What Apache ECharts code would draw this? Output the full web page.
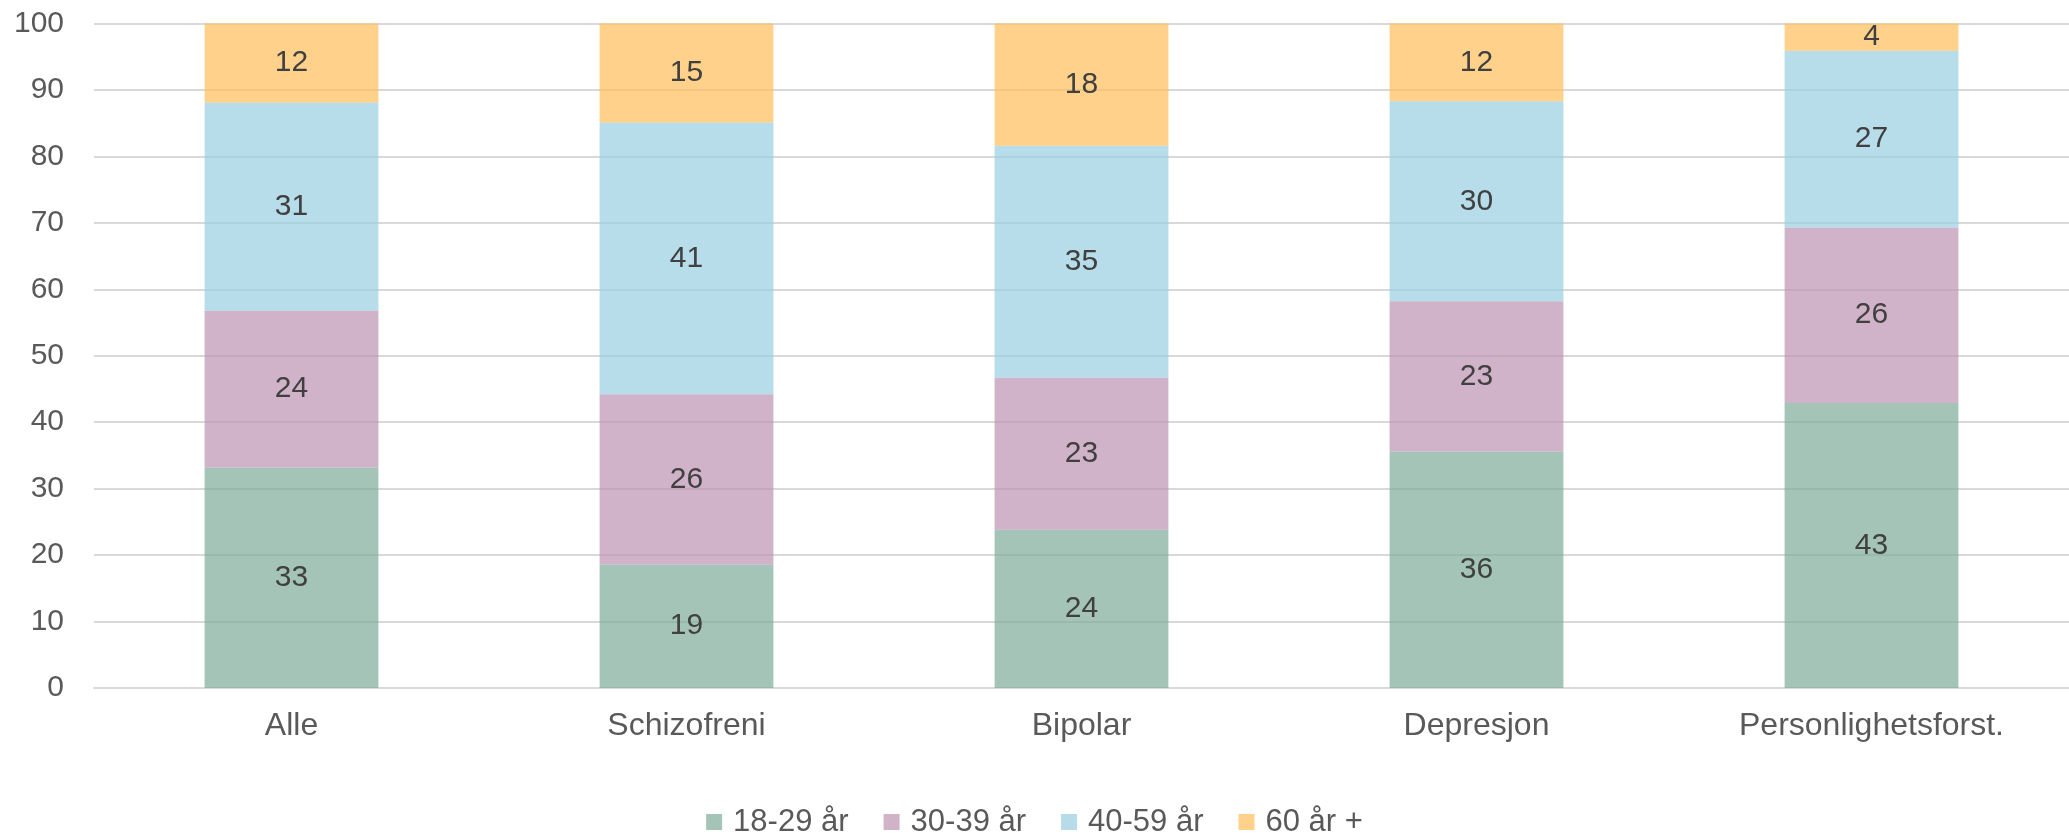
<!DOCTYPE html>
<html>
<head>
<meta charset="utf-8">
<script src="https://cdn.jsdelivr.net/npm/echarts@6/dist/echarts.min.js"></script>
<style>
html,body{margin:0;padding:0;background:#fff;}
#chart{width:2069px;height:836px;}
</style>
</head>
<body>
<div id="chart"></div>
<script>
var categories = ['Alle', 'Schizofreni', 'Bipolar', 'Depresjon', 'Personlighetsforst.'];
var seriesNames = ['18-29 år', '30-39 år', '40-59 år', '60 år +'];
var age18_29 = [33.2, 18.6, 23.8, 35.6, 42.9];
var age30_39 = [23.6, 25.6, 22.9, 22.6, 26.4];
var age40_59 = [31.3, 40.9, 34.9, 30.1, 26.6];
var age60plus = [11.9, 14.9, 18.4, 11.7, 4.1];
var yTicks = [0, 10, 20, 30, 40, 50, 60, 70, 80, 90, 100];

var colors = ['rgba(126,171,154,0.7)', 'rgba(188,145,178,0.7)', 'rgba(152,205,225,0.7)', 'rgba(255,189,88,0.7)'];
var legendColors = ['#a5c4b8', '#d0b2c9', '#b8dbea', '#ffd18a'];
var allData = [age18_29, age30_39, age40_59, age60plus];
var font = 'Liberation Sans, Arial, sans-serif';

var chart = echarts.init(document.getElementById('chart'));
var series = allData.map(function (d, i) {
  return {
    name: seriesNames[i],
    type: 'bar',
    stack: 'total',
    data: d,
    barWidth: '44%',
    itemStyle: { color: colors[i] },
    label: {
      show: true,
      position: 'inside',
      formatter: function (p) { return Math.round(p.value); },
      color: '#404040',
      fontFamily: font,
      fontSize: 30
    }
  };
});

chart.setOption({
  animation: false,
  backgroundColor: '#fff',
  grid: { left: 94, right: 0, top: 23.5, bottom: 148, containLabel: false },
  legend: {
    data: seriesNames.map(function (n, i) { return { name: n, itemStyle: { color: legendColors[i] } }; }),
    left: 'center',
    top: 801,
    icon: 'rect',
    itemWidth: 16,
    itemHeight: 16,
    itemGap: 35,
    textStyle: { color: '#595959', fontFamily: font, fontSize: 31, lineHeight: 32, padding: [0, 0, 0, 6] }
  },
  xAxis: {
    type: 'category',
    data: categories,
    axisLine: { lineStyle: { color: '#d9d9d9', width: 2 } },
    axisTick: { show: false },
    axisLabel: { color: '#595959', fontFamily: font, fontSize: 32, margin: 22 }
  },
  yAxis: {
    type: 'value',
    min: yTicks[0],
    max: yTicks[yTicks.length - 1],
    interval: 10,
    axisLine: { show: false },
    axisTick: { show: false },
    axisLabel: { color: '#595959', fontFamily: font, fontSize: 30, margin: 30 },
    splitLine: { lineStyle: { color: '#d9d9d9', width: 2 } }
  },
  series: series
});
</script>
</body>
</html>
